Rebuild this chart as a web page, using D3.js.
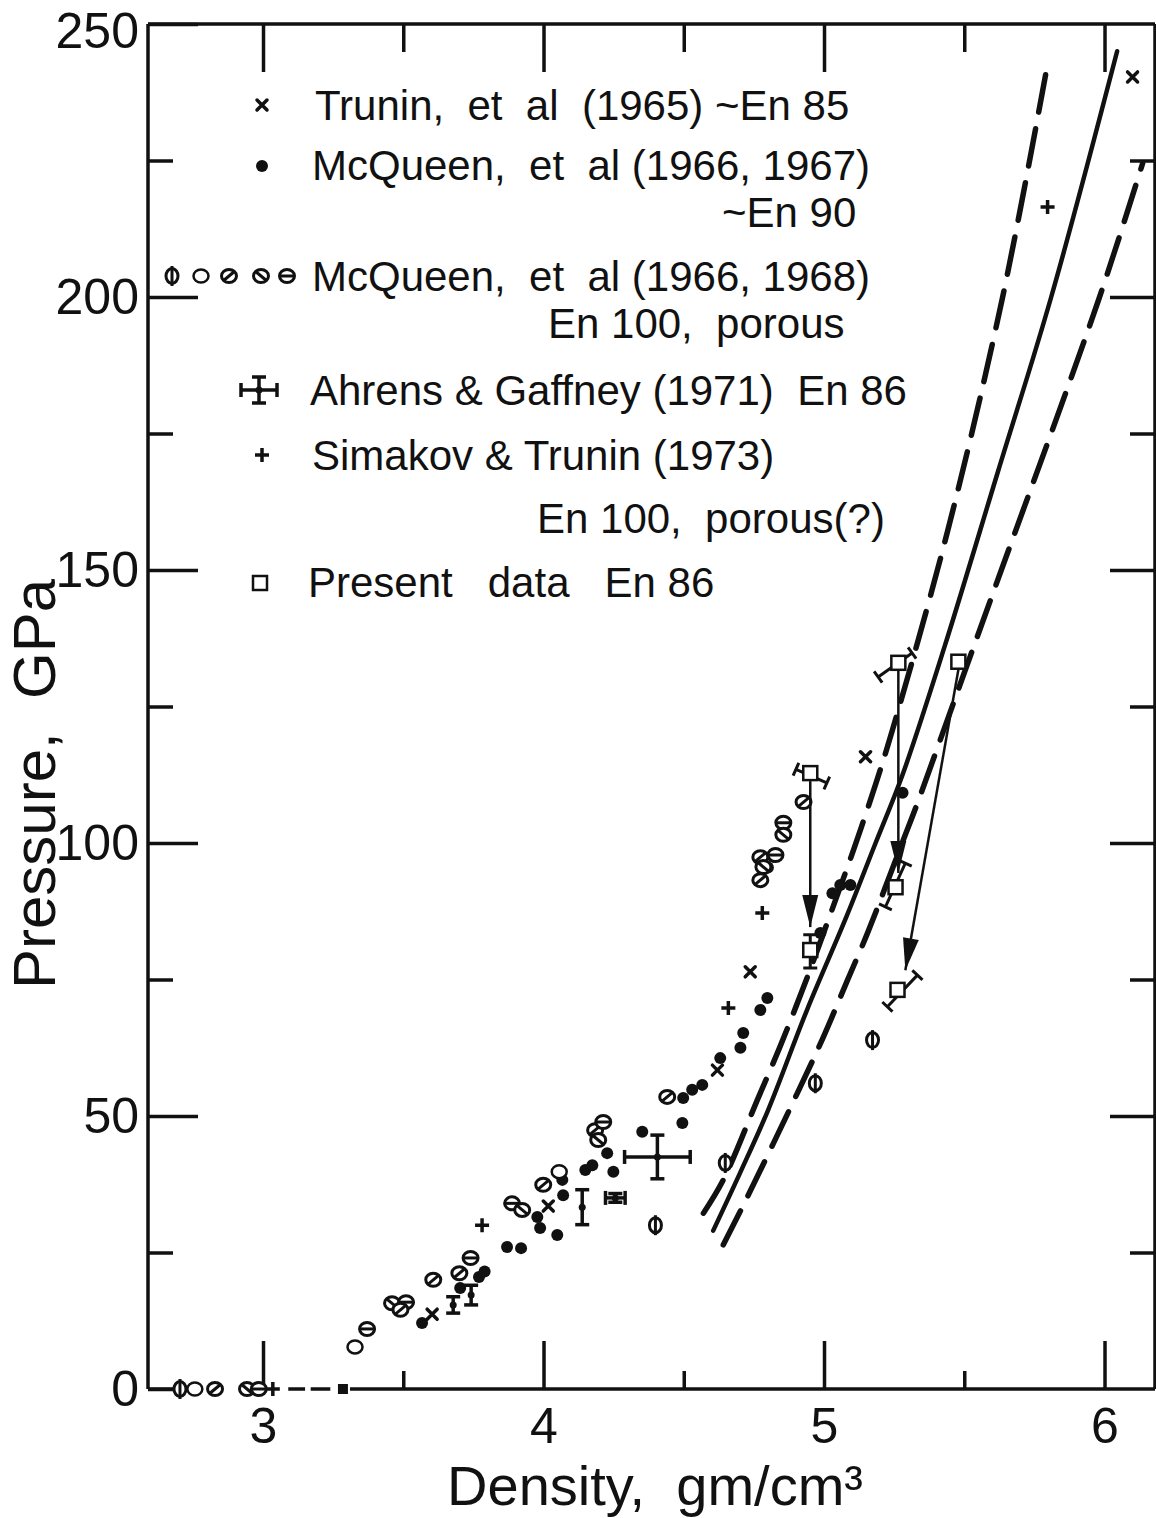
<!DOCTYPE html>
<html><head><meta charset="utf-8">
<script src="https://cdn.jsdelivr.net/npm/d3@7"></script>
<style>body{margin:0;background:#fff}</style>
</head><body>
<svg id="chart" width="1156" height="1518"></svg>
<script>
// ---------- DATA ----------
const xTicks = [3, 4, 5, 6];
const xMinorTicks = [3.5, 4.5, 5.5];
const yTicks = [0, 50, 100, 150, 200, 250];
const yMinorTicks = [25, 75, 125, 175, 225];

// Trunin et al (1965) ~En 85  [density, pressure]
const trunin = [[3.603,13.7],[4.017,33.5],[4.620,58.4],[4.737,76.4],[5.148,115.8],[6.100,240.3]];
const truninZero = [[3.285,0]];
// McQueen et al (1966,1967) ~En 90
const mcqueenSolid = [[3.50,15.2],[3.567,12.1],[3.703,18.5],[3.77,20.5],[3.79,21.5],[3.870,26.0],[3.920,25.8],
  [3.978,31.5],[3.988,29.5],[4.049,28.2],[4.067,38.3],[4.070,35.5],[4.149,40.1],[4.174,41.0],[4.227,43.2],
  [4.249,39.8],[4.352,47.1],[4.495,48.7],[4.498,53.3],[4.530,54.8],[4.566,55.7],[4.630,60.6],[4.702,62.5],
  [4.712,65.2],[4.773,69.4],[4.798,71.6],[4.80,95.5],[4.82,97.5],[4.987,83.5],[5.030,90.8],[5.058,92.3],
  [5.094,92.3],[5.280,109.2]];
// McQueen et al (1966,1968) En 100 porous  [density, pressure, symbol]
const mcqueenPorous = [[2.704,0,'phi'],[2.757,0,'open'],[2.829,0,'slash'],[2.943,0,'bslash'],[2.985,0,'minus'],
  [3.328,7.7,'open'],[3.371,11.0,'minus'],[3.46,15.7,'bslash'],[3.51,15.9,'minus'],[3.49,14.5,'slash'],
  [3.607,20.0,'slash'],[3.74,24.0,'minus'],[3.70,21.2,'slash'],[3.888,34.0,'minus'],[3.924,32.8,'bslash'],
  [3.999,37.4,'slash'],[4.056,39.8,'open'],[4.184,47.4,'slash'],[4.213,48.9,'minus'],[4.195,45.6,'bslash'],
  [4.441,53.5,'slash'],[4.399,30.0,'phi'],[4.648,41.4,'phi'],[4.969,56.0,'phi'],[5.173,63.9,'phi'],
  [4.927,107.5,'slash'],[4.855,103.7,'minus'],[4.855,101.5,'bslash'],[4.773,97.4,'slash'],[4.827,97.8,'minus'],
  [4.784,95.6,'bslash'],[4.773,93.2,'slash']];
// Ahrens & Gaffney (1971) En 86 [density, pressure, dDensity, dPressure]
const ahrens = [[3.678,15.4,0,1.5],[3.742,17.2,0,1.8],[4.138,33.3,0,3.2],[4.256,35.0,0.035,0.8],[4.406,42.5,0.117,4.0]];
// Simakov & Trunin (1973)
const simakov = [[3.035,0],[3.781,30.0],[4.659,69.8],[4.780,87.2],[5.797,216.5]];
// Present data En 86
const presentTop = [[4.951,112.8],[5.265,133.0],[5.479,133.2]];
const presentBottom = [[4.951,80.4],[5.255,91.9],[5.262,73.1]];
const arrowTips = [[4.951,84.6],[5.265,94.5],[5.290,76.7]];
const presentErr = [[4.90,113.5,5.01,111.0],[5.193,130.4,5.314,134.8],[4.951,83.2,4.951,77.1],
  [5.290,96.3,5.219,88.3],[5.226,70.0,5.333,75.8]];
// Curves
const curveSolid = [[4.605,29],[4.70,39.5],[4.80,51],[4.94,69.5],[5.08,86.5],[5.18,99.5],[5.28,112.5],[5.43,136],[5.62,168],[5.81,200],[6.045,245]];
const curveUpper = [[4.570,32.2],[4.641,38.3],[4.762,52.9],[4.844,62.8],[4.941,75.5],[5.023,87.0],[5.105,98.7],[5.183,110.6],[5.244,120.7],[5.44,157],[5.636,199.8],[5.790,240.7]];
const curveLower = [[4.641,26.4],[4.727,35.2],[4.905,54.2],[4.998,64.5],[5.083,74.8],[5.155,83.5],[5.283,100.6],[5.333,107.3],[5.487,129.3],[5.604,146.0],[5.979,199.5],[6.136,224.5]];

// ---------- LAYOUT ----------
const L = 148, R = 1155, T = 24, B = 1389;
const x = d3.scaleLinear().domain([2.59, 6.18]).range([L, R]);
const y = d3.scaleLinear().domain([0, 250]).range([B, T]);
const svg = d3.select('#chart');
const INK = '#111';
const FONT = '"Liberation Sans", Arial, sans-serif';

// frame
const frame = svg.append('g').attr('stroke', INK).attr('stroke-width', 3.5).attr('fill', 'none');
frame.append('line').attr('x1', L).attr('x2', R).attr('y1', T).attr('y2', T);
frame.append('line').attr('x1', L).attr('x2', L).attr('y1', T).attr('y2', B);
frame.append('line').attr('x1', R).attr('x2', R).attr('y1', T).attr('y2', B);
[[2.59,2.69],[3.31,6.18]].forEach(s => frame.append('line').attr('x1', x(s[0])).attr('x2', x(s[1])).attr('y1', B).attr('y2', B));
[[3.09,3.15],[3.17,3.24]].forEach(s => frame.append('line').attr('x1', x(s[0])).attr('x2', x(s[1])).attr('y1', B).attr('y2', B));

function styleAxis(g) {
  g.select('.domain').remove();
  g.selectAll('.tick line').attr('stroke', INK).attr('stroke-width', 3.5);
  g.selectAll('.tick text').attr('fill', INK).attr('font-family', FONT).attr('font-size', 50);
}
svg.append('g').attr('transform', `translate(0,${B})`)
  .call(d3.axisBottom(x).tickValues(xTicks).tickSize(-48).tickPadding(18).tickFormat(d3.format('d'))).call(styleAxis);
svg.append('g').attr('transform', `translate(0,${B})`)
  .call(d3.axisBottom(x).tickValues(xMinorTicks).tickSize(-18).tickFormat('')).call(styleAxis);
svg.append('g').attr('transform', `translate(0,${T})`)
  .call(d3.axisTop(x).tickValues(xTicks).tickSize(-48).tickFormat('')).call(styleAxis);
svg.append('g').attr('transform', `translate(0,${T})`)
  .call(d3.axisTop(x).tickValues(xMinorTicks).tickSize(-28).tickFormat('')).call(styleAxis);
const yAx = svg.append('g').attr('transform', `translate(${L},0)`)
  .call(d3.axisLeft(y).tickValues(yTicks).tickSize(-50).tickPadding(9).tickFormat(d3.format('d'))).call(styleAxis);
// keep the top label inside the page
yAx.selectAll('.tick text').filter(d => d === 250).attr('dy', '0.46em');
svg.append('g').attr('transform', `translate(${L},0)`)
  .call(d3.axisLeft(y).tickValues(yMinorTicks).tickSize(-25).tickFormat('')).call(styleAxis);
svg.append('g').attr('transform', `translate(${R},0)`)
  .call(d3.axisRight(y).tickValues(yTicks.filter(v => v > 0 && v < 250)).tickSize(-45).tickFormat('')).call(styleAxis);
svg.append('g').attr('transform', `translate(${R},0)`)
  .call(d3.axisRight(y).tickValues(yMinorTicks).tickSize(-25).tickFormat('')).call(styleAxis);

// axis titles
svg.append('text').attr('x', 655).attr('y', 1505).attr('text-anchor', 'middle')
  .attr('font-family', FONT).attr('font-size', 56).attr('fill', INK).style('white-space', 'pre')
  .text('Density,  gm/cm\u00B3');
svg.append('text').attr('transform', 'translate(55,784) rotate(-90)').attr('text-anchor', 'middle')
  .attr('font-family', FONT).attr('font-size', 60).attr('fill', INK).style('white-space', 'pre')
  .text('Pressure,  GPa');

// ---------- CURVES ----------
const line = d3.line().x(d => x(d[0])).y(d => y(d[1])).curve(d3.curveCatmullRom.alpha(0.5));
const curves = svg.append('g').attr('fill', 'none').attr('stroke', INK).attr('stroke-linecap', 'round');
curves.append('path').attr('d', line(curveSolid)).attr('stroke-width', 4.5);
curves.append('path').attr('d', line(curveUpper)).attr('stroke-width', 5.5).attr('stroke-dasharray', '38 17');
curves.append('path').attr('d', line(curveLower)).attr('stroke-width', 5.5).attr('stroke-dasharray', '38 17');

// ---------- SYMBOLS ----------
function drawPorous(g, type) {
  const sw = 3;
  if (type === 'phi') {
    g.append('ellipse').attr('rx', 6).attr('ry', 7.5).attr('fill', '#fff').attr('stroke', INK).attr('stroke-width', sw);
    g.append('line').attr('x1', 0).attr('x2', 0).attr('y1', -10).attr('y2', 10).attr('stroke', INK).attr('stroke-width', sw);
  } else {
    g.append('ellipse').attr('rx', 7.5).attr('ry', 6.5).attr('fill', '#fff').attr('stroke', INK).attr('stroke-width', type === 'open' ? 2.5 : sw);
    if (type === 'slash') g.append('line').attr('x1', -6).attr('y1', 5).attr('x2', 6).attr('y2', -5).attr('stroke', INK).attr('stroke-width', sw);
    if (type === 'bslash') g.append('line').attr('x1', -6).attr('y1', -5).attr('x2', 6).attr('y2', 5).attr('stroke', INK).attr('stroke-width', sw);
    if (type === 'minus') g.append('line').attr('x1', -8).attr('y1', 0).attr('x2', 8).attr('y2', 0).attr('stroke', INK).attr('stroke-width', sw);
  }
}
function drawX(g) {
  g.append('path').attr('d', 'M-5,-5L5,5M-5,5L5,-5').attr('stroke', INK).attr('stroke-width', 3.5).attr('stroke-linecap', 'round');
}
function drawPlus(g) {
  g.append('path').attr('d', 'M-7,0L7,0M0,-7L0,7').attr('stroke', INK).attr('stroke-width', 3.5);
}
function drawDot(g) { g.append('circle').attr('r', 6).attr('fill', INK); }
function drawSquare(g) {
  g.append('rect').attr('x', -7).attr('y', -7).attr('width', 14).attr('height', 14)
    .attr('fill', '#fff').attr('stroke', INK).attr('stroke-width', 2.5);
}
function drawErrCross(g, hx, hy) {
  const p = g.append('g').attr('stroke', INK).attr('stroke-width', 3.5);
  if (hx > 0) {
    p.append('line').attr('x1', -hx).attr('x2', hx).attr('y1', 0).attr('y2', 0);
    p.append('line').attr('x1', -hx).attr('x2', -hx).attr('y1', -7).attr('y2', 7);
    p.append('line').attr('x1', hx).attr('x2', hx).attr('y1', -7).attr('y2', 7);
  }
  if (hy > 0) {
    p.append('line').attr('x1', 0).attr('x2', 0).attr('y1', -hy).attr('y2', hy);
    p.append('line').attr('x1', -7).attr('x2', 7).attr('y1', -hy).attr('y2', -hy);
    p.append('line').attr('x1', -7).attr('x2', 7).attr('y1', hy).attr('y2', hy);
  }
  g.append('circle').attr('r', 3.5).attr('fill', INK);
}

const pts = svg.append('g');
mcqueenSolid.forEach(d => drawDot(pts.append('g').attr('transform', `translate(${x(d[0])},${y(d[1])})`)));
mcqueenPorous.forEach(d => drawPorous(pts.append('g').attr('transform', `translate(${x(d[0])},${y(d[1])})`), d[2]));
trunin.forEach(d => drawX(pts.append('g').attr('transform', `translate(${x(d[0])},${y(d[1])})`)));
truninZero.forEach(d => pts.append('rect').attr('x', x(d[0]) - 5).attr('y', y(d[1]) - 5).attr('width', 10).attr('height', 10).attr('fill', INK));
simakov.forEach(d => drawPlus(pts.append('g').attr('transform', `translate(${x(d[0])},${y(d[1])})`)));
ahrens.forEach(d => {
  const hx = d[2] > 0 ? x(d[0] + d[2]) - x(d[0]) : 0;
  const hy = d[3] > 0 ? y(d[1]) - y(d[1] + d[3]) : 0;
  drawErrCross(pts.append('g').attr('transform', `translate(${x(d[0])},${y(d[1])})`), hx, hy);
});

// present data: error bars, arrows, squares
const pres = svg.append('g');
presentErr.forEach(e => {
  const x1 = x(e[0]), y1 = y(e[1]), x2 = x(e[2]), y2 = y(e[3]);
  const ang = Math.atan2(y2 - y1, x2 - x1);
  const nx = -Math.sin(ang) * 7, ny = Math.cos(ang) * 7;
  pres.append('path').attr('d', `M${x1},${y1}L${x2},${y2}M${x1 - nx},${y1 - ny}L${x1 + nx},${y1 + ny}M${x2 - nx},${y2 - ny}L${x2 + nx},${y2 + ny}`)
    .attr('stroke', INK).attr('stroke-width', 3).attr('fill', 'none');
});
presentTop.forEach((s, i) => {
  const t = arrowTips[i];
  const x1 = x(s[0]), y1 = y(s[1]) + 8, x2 = x(t[0]), y2 = y(t[1]);
  const ang = Math.atan2(y2 - y1, x2 - x1) * 180 / Math.PI;
  pres.append('line').attr('x1', x1).attr('y1', y1).attr('x2', x2).attr('y2', y2).attr('stroke', INK).attr('stroke-width', 2.5);
  pres.append('path').attr('d', 'M0,0L-32,-8L-32,8Z').attr('fill', INK)
    .attr('transform', `translate(${x2},${y2}) rotate(${ang})`);
});
presentTop.concat(presentBottom).forEach(d => drawSquare(pres.append('g').attr('transform', `translate(${x(d[0])},${y(d[1])})`)));

// ---------- LEGEND ----------
const leg = svg.append('g');
function legText(tx, ty, s) {
  leg.append('text').attr('x', tx).attr('y', ty).attr('dy', '0.36em').attr('font-family', FONT)
    .attr('font-size', 42).attr('fill', INK).style('white-space', 'pre').text(s);
}
drawX(leg.append('g').attr('transform', 'translate(262,105)'));
legText(315, 105, 'Trunin,  et  al  (1965) ~En 85');
drawDot(leg.append('g').attr('transform', 'translate(262,166)'));
legText(312, 165, 'McQueen,  et  al (1966, 1967)');
legText(722, 212, '~En 90');
['phi', 'open', 'slash', 'bslash', 'minus'].forEach((t, i) => drawPorous(leg.append('g').attr('transform', `translate(${[172, 201, 229, 261, 287][i]},276)`), t));
legText(312, 276, 'McQueen,  et  al (1966, 1968)');
legText(548, 323, 'En 100,  porous');
drawErrCross(leg.append('g').attr('transform', 'translate(259,390)'), 18, 13);
legText(310, 390, 'Ahrens & Gaffney (1971)  En 86');
drawPlus(leg.append('g').attr('transform', 'translate(262,455)'));
legText(312, 455, 'Simakov & Trunin (1973)');
legText(537, 518, 'En 100,  porous(?)');
drawSquare(leg.append('g').attr('transform', 'translate(260,583)'));
legText(308, 582, 'Present   data   En 86');
</script>
</body></html>
